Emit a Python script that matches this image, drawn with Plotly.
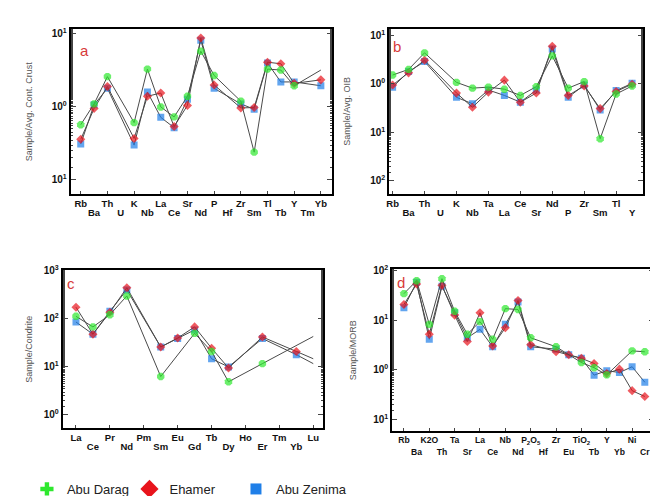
import plotly.graph_objects as go

# ---------------- data ----------------
A_CATS = ["Rb", "Ba", "Th", "U", "K", "Nb", "La", "Ce", "Sr", "Nd", "P", "Hf", "Zr", "Sm", "Tl", "Tb", "Y", "Tm", "Yb"]
A_DARAG = [0.57, 1.1, 2.6, None, 0.61, 3.3, 1.0, 0.73, 1.4, 5.8, 2.7, None, 1.2, 0.24, 3.3, 3.2, 1.95, None, 3.2]
A_EHAMER = [0.36, 0.95, 1.9, None, 0.37, 1.4, 1.55, 0.54, 1.05, 8.8, 2.0, None, 0.97, 0.98, 4.1, 3.9, 2.1, None, 2.35]
A_ZENIMA = [0.31, 1.07, 1.8, None, 0.30, 1.6, 0.72, 0.52, 1.27, 8.2, 1.8, None, 1.1, 0.93, 4.0, 2.2, 2.2, None, 1.95]
A_NOMARK = {"Darag": ["Yb"], "Ehamer": [], "Zenima": []}

B_CATS = ["Rb", "Ba", "Th", "U", "K", "Nb", "Ta", "La", "Ce", "Sr", "Nd", "P", "Zr", "Sm", "Tl", "Y"]
B_DARAG = [1.53, 2.0, 4.4, None, 1.08, 0.82, 0.86, 0.78, 0.58, 0.88, 3.8, 0.82, 1.12, 0.074, 0.62, 0.91]
B_EHAMER = [0.95, 1.7, 3.1, None, 0.65, 0.33, 0.68, 1.2, 0.42, 0.65, 6.0, 0.58, 0.91, 0.31, 0.70, 0.99]
B_ZENIMA = [0.86, 1.8, 2.9, None, 0.53, 0.39, 0.75, 0.58, 0.42, 0.75, 5.3, 0.53, 0.95, 0.29, 0.73, 1.03]
B_NOMARK = {"Darag": [], "Ehamer": [], "Zenima": []}

C_CATS = ["La", "Ce", "Pr", "Nd", "Pm", "Sm", "Eu", "Gd", "Tb", "Dy", "Ho", "Er", "Tm", "Yb", "Lu"]
C_DARAG = [113, 68, 122, 300, None, 6.3, None, 50, 21, 4.9, None, 11.7, None, None, 43]
C_EHAMER = [175, 48, 137, 445, None, 26, 40, 68, 24.5, 9.5, None, 42, None, 21, 14.8]
C_ZENIMA = [86, 48, 144, 400, None, 26, 39, 59, 14.8, 10, None, 39, None, 18, 11.7]
C_NOMARK = {"Darag": ["Lu"], "Ehamer": ["Lu"], "Zenima": ["Lu"]}

D_CATS = ["Rb", "Ba", "K2O", "Th", "Ta", "Sr", "La", "Ce", "Nb", "Nd", "P<sub>2</sub>O<sub>5</sub>", "Hf", "Zr", "Eu",
          "TiO<sub>2</sub>", "Tb", "Y", "Yb", "Ni", "Cr"]
D_DARAG = [34, 62, 8.2, 68, 15, 5.2, 9.3, 4.1, 17, 16.3, 4.4, None, 2.9, None, 1.4, 1.1, 0.79, None, 2.4, 2.3]
D_EHAMER = [20.6, 53, 5.2, 50, 12.6, 3.7, 14, 3.0, 7.0, 24.7, 3.2, None, 2.3, 2.0, 1.7, 1.34, 0.84, 1.03, 0.38, 0.29]
D_ZENIMA = [17.7, 58, 4.1, 48, 14, 4.4, 6.5, 2.9, 8.2, 23, 2.9, None, 2.6, 2.0, 1.7, 0.78, 0.96, 0.88, 1.15, 0.56]
D_NOMARK = {"Darag": [], "Ehamer": [], "Zenima": []}

Y_TITLES = ["Sample/Avg. Cont. Crust", "Sample/Avg. OIB", "Sample/Condrite", "Sample/MORB"]
PANEL_LETTERS = ["a", "b", "c", "d"]
SERIES_NAMES = {"Darag": "Abu Darag", "Ehamer": "Ehamer", "Zenima": "Abu Zenima"}

# ---------------- styling ----------------
W, H = 658, 496
FONT = "Liberation Sans, Arial, sans-serif"
STY = {
    "Zenima": dict(symbol="square", color="#1f7fe8", size=7, lsymbol="square", lsize=11),
    "Ehamer": dict(symbol="diamond", color="#e8141c", size=7, lsymbol="diamond", lsize=14),
    "Darag": dict(symbol="octagon", color="#2ee82e", size=8, lsymbol="cross", lsize=11),
}
ORDER = ["Zenima", "Ehamer", "Darag"]
LEGEND_X = {"Darag": 16, "Ehamer": 119, "Zenima": 226}

PANELS = [
    dict(cats=A_CATS, data={"Darag": A_DARAG, "Ehamer": A_EHAMER, "Zenima": A_ZENIMA}, nomark=A_NOMARK,
         box=(60, 322, 15, 182), xr=[-0.75, 18.8], yr=[-1.19, 1.07], yt=[0.1, 1, 10], fs=9.5, so=12,
         ytext=["10<sup>1</sup>", "10<sup>0</sup>", "10<sup>1</sup>"], title_x=18, letter=(74, 37)),
    dict(cats=B_CATS, data={"Darag": B_DARAG, "Ehamer": B_EHAMER, "Zenima": B_ZENIMA}, nomark=B_NOMARK,
         box=(380, 635, 15, 182), xr=[-0.21, 15.69], yr=[-2.27, 1.14], yt=[0.01, 0.1, 1, 10], fs=9.5, so=12,
         ytext=["10<sup>2</sup>", "10<sup>1</sup>", "10<sup>0</sup>", "10<sup>1</sup>"], title_x=338, letter=(388, 33)),
    dict(cats=C_CATS, data={"Darag": C_DARAG, "Ehamer": C_EHAMER, "Zenima": C_ZENIMA}, nomark=C_NOMARK,
         box=(52, 313, 259, 419), xr=[-0.78, 14.55], yr=[-0.27, 3.02], yt=[1, 10, 100, 1000], fs=9.5, so=12,
         ytext=["10<sup>0</sup>", "10<sup>1</sup>", "10<sup>2</sup>", "10<sup>3</sup>"], title_x=18, letter=(60, 273)),
    dict(cats=D_CATS, data={"Darag": D_DARAG, "Ehamer": D_EHAMER, "Zenima": D_ZENIMA}, nomark=D_NOMARK,
         box=(383, 646, 258, 422), xr=[-0.92, 19.73], yr=[-1.23, 2.03], yt=[0.1, 1, 10, 100], fs=8.6, so=15,
         ytext=["10<sup>1</sup>", "10<sup>0</sup>", "10<sup>1</sup>", "10<sup>2</sup>"], title_x=343, letter=(392, 272)),
]

fig = go.Figure()
layout = dict(width=W, height=H, margin=dict(l=0, r=0, t=0, b=0),
              paper_bgcolor="white", plot_bgcolor="white", showlegend=True,
              font=dict(family=FONT, color="black"))
annotations = []

for i, p in enumerate(PANELS):
    n = i + 1
    xa = "x" if n == 1 else f"x{n}"
    ya = "y" if n == 1 else f"y{n}"
    x2n = n + 4  # overlaying axis for the second row of labels
    x0, x1, yt0, yb1 = p["box"]
    xs = list(range(len(p["cats"])))
    tf = dict(size=p["fs"], family=FONT, color="#111")
    for key in ORDER:
        vals = p["data"][key]
        st = STY[key]
        sizes = [0 if c in p["nomark"][key] else st["size"] for c in p["cats"]]
        fig.add_trace(go.Scatter(
            x=xs, y=vals, mode="lines+markers", connectgaps=True,
            line=dict(color="#4a4a4a", width=1),
            marker=dict(symbol=st["symbol"], color=st["color"], size=sizes, line=dict(width=0)),
            xaxis=xa, yaxis=ya, showlegend=False, name=SERIES_NAMES[key], hoverinfo="skip"))
    even = [j for j in xs if j % 2 == 0]
    odd = [j for j in xs if j % 2 == 1]
    layout["xaxis" if n == 1 else f"xaxis{n}"] = dict(
        domain=[x0 / W, x1 / W], anchor=ya, range=p["xr"],
        tickvals=even, ticktext=[f"<b>{p['cats'][j]}</b>" for j in even], tickangle=0,
        tickfont=tf, ticks="inside", ticklen=3, tickwidth=1,
        showline=True, linecolor="black", linewidth=2, mirror=True, showgrid=False, zeroline=False)
    layout[f"xaxis{x2n}"] = dict(
        overlaying=xa, anchor=ya, side="bottom", range=p["xr"],
        tickvals=odd, ticktext=[f"<b>{p['cats'][j]}</b>" for j in odd], tickangle=0,
        tickfont=tf, ticks="", ticklabelstandoff=p["so"],
        showline=False, showgrid=False, zeroline=False)
    fig.add_trace(go.Scatter(x=[None], y=[None], xaxis=f"x{x2n}", yaxis=ya, showlegend=False,
                             hoverinfo="skip", mode="markers"))
    layout["yaxis" if n == 1 else f"yaxis{n}"] = dict(
        domain=[1 - yb1 / H, 1 - yt0 / H], anchor=xa, type="log", range=p["yr"],
        tickvals=p["yt"], ticktext=[f"<b>{t}</b>" for t in p["ytext"]],
        tickfont=dict(size=10, family=FONT, color="#111"), ticks="inside", ticklen=5, tickwidth=1,
        minor=dict(ticks="inside", ticklen=2, tickwidth=1, showgrid=False),
        showline=True, linecolor="black", linewidth=2, mirror="ticks", showgrid=False, zeroline=False)
    annotations.append(dict(text=Y_TITLES[i], x=p["title_x"] / W, y=1 - (yt0 + yb1) / 2 / H,
                            xref="paper", yref="paper", textangle=-90, showarrow=False,
                            font=dict(size=9, color="#555", family=FONT), xanchor="center", yanchor="middle"))
    lx, ly = p["letter"]
    annotations.append(dict(text=PANEL_LETTERS[i], x=lx / W, y=1 - ly / H, xref="paper", yref="paper",
                            showarrow=False, font=dict(size=15, color="#d83a3a", family=FONT),
                            xanchor="center", yanchor="middle"))

for k, key in enumerate(["Darag", "Ehamer", "Zenima"]):
    st = STY[key]
    lname = "legend" if k == 0 else f"legend{k + 1}"
    fig.add_trace(go.Scatter(x=[None], y=[None], mode="markers", name=SERIES_NAMES[key], legend=lname,
                             marker=dict(symbol=st["lsymbol"], color=st["color"], size=st["lsize"], line=dict(width=0)),
                             showlegend=True))
    layout[lname] = dict(orientation="h", x=LEGEND_X[key] / W, y=0.0, xanchor="left", yanchor="bottom",
                         font=dict(size=13, family=FONT, color="#222"), bgcolor="rgba(0,0,0,0)",
                         itemsizing="trace")
layout["annotations"] = annotations
fig.update_layout(**layout)
fig.write_html("out.html")
